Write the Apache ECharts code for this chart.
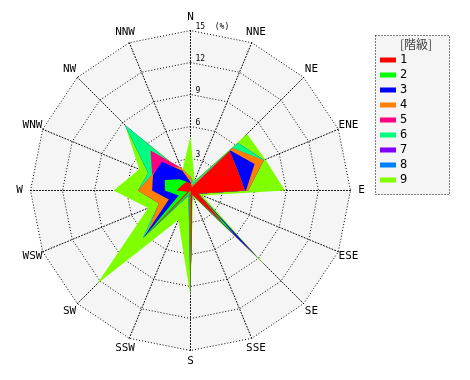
<!DOCTYPE html>
<html><head><meta charset="utf-8">
<script src="https://cdn.jsdelivr.net/npm/echarts@6/dist/echarts.min.js"></script>
<style>html,body{margin:0;padding:0;background:#fff}#c{width:470px;height:380px}</style>
</head><body><div id="c"></div>
<script>
// compass directions, clockwise from North
const directions = ['N','NNE','NE','ENE','E','ESE','SE','SSE','S','SSW','SW','WSW','W','WNW','NW','NNW'];
const classNames = ['1','2','3','4','5','6','7','8','9'];
const classColors = ['#ff0000','#00ff00','#0000ff','#ff8000','#ff0080','#00ff80','#8000ff','#0080ff','#80ff00'];
const radiusTicks = [0, 3, 6, 9, 12, 15];
const radiusUnit = '(%)';
const legendTitle = '[階級]';

// values (%) per class, in the order of `directions`
const s1 = [0.6, 0.3, 5.2, 4.8, 5.1, 0.8, 4.3, 0.4, 9.9, 0.0, 5.8, 0.3, 1.3, 1.0, 0.9, 0.9];
const s2 = [0.6, 0.3, 5.2, 4.8, 5.1, 0.8, 6.0, 0.4, 9.9, 0.3, 6.0, 1.2, 2.4, 2.6, 1.5, 0.9];
const s3 = [0.8, 0.3, 5.3, 6.5, 5.2, 0.8, 8.8, 0.4, 9.9, 0.3, 6.2, 2.2, 3.6, 3.8, 3.8, 2.0];
const s4 = [1.3, 0.5, 5.6, 7.4, 5.4, 0.8, 8.9, 0.4, 9.9, 0.3, 5.8, 3.2, 4.9, 3.9, 3.3, 2.3];
const s5 = [1.3, 0.5, 5.6, 7.4, 5.4, 0.8, 8.9, 0.4, 9.9, 0.3, 5.8, 3.2, 4.9, 3.9, 5.3, 2.3];
const s6 = [1.3, 0.8, 6.3, 7.45, 5.4, 0.8, 9.0, 0.4, 9.9, 0.5, 6.3, 3.2, 4.9, 4.3, 8.7, 1.8];
const s7 = [1.3, 0.8, 6.3, 7.45, 5.4, 0.8, 9.0, 0.4, 9.9, 0.5, 6.3, 3.2, 4.9, 4.3, 8.7, 1.8];
const s8 = [1.3, 0.8, 6.3, 7.45, 5.4, 0.8, 9.1, 0.4, 9.9, 0.5, 6.3, 3.2, 4.9, 4.3, 8.7, 1.8];
const s9 = [5.1, 1.0, 7.5, 7.6, 8.85, 1.2, 9.9, 0.6, 9.9, 3.0, 12.4, 4.3, 7.2, 5.2, 8.7, 2.0];
const classValues = [s1, s2, s3, s4, s5, s6, s7, s8, s9];

// ECharts radar lays indicators counter-clockwise: reorder to get clockwise compass
const order = [0].concat(directions.map((d, i) => i).slice(1).reverse());
const maxR = radiusTicks[radiusTicks.length - 1];
const mono = 'DejaVu Sans Mono';

const indicator = order.map((i, k) => {
  const ind = { name: directions[i], min: 0, max: maxR };
  if (k === 0) {
    ind.axisLabel = {
      show: true, fontSize: 8, fontFamily: mono, color: '#000',
      align: 'left', verticalAlign: 'bottom', margin: -5,
      formatter: v => (v === maxR ? v + '  ' + radiusUnit : String(v))
    };
  }
  return ind;
});

const series = [];
for (let c = classNames.length - 1; c >= 0; c--) {
  series.push({
    type: 'radar', name: classNames[c], symbol: 'none', silent: true,
    itemStyle: { color: classColors[c] },
    lineStyle: { width: 0, color: classColors[c] },
    areaStyle: { color: classColors[c], opacity: 1 },
    data: [{ value: order.map(i => classValues[c][i]), name: classNames[c] }]
  });
}

const chart = echarts.init(document.getElementById('c'), null, { renderer: 'canvas' });
chart.setOption({
  animation: false,
  backgroundColor: '#fff',
  title: {
    text: legendTitle, left: 400, top: 38, padding: 0,
    textStyle: { fontSize: 12, fontWeight: 'normal', color: '#444', fontFamily: 'Noto Sans CJK JP' }
  },
  legend: {
    orient: 'vertical', left: 380, top: 54, padding: 0,
    itemWidth: 16, itemHeight: 5, itemGap: 3, icon: 'rect', selectedMode: false,
    data: classNames,
    textStyle: { fontSize: 12, fontFamily: mono, color: '#000', padding: [0,0,0,-1] }
  },
  graphic: [{
    type: 'rect', z: 0, silent: true,
    shape: { x: 375.5, y: 35.5, width: 74, height: 159 },
    style: { fill: '#f5f5f5', stroke: '#000', lineWidth: 1, lineDash: [1, 2] }
  }],
  radar: {
    center: [190.5, 190.5], radius: 160, startAngle: 90,
    shape: 'polygon', splitNumber: 5,
    indicator: indicator,
    axisName: { color: '#000', fontSize: 11, fontFamily: mono, align: 'center', verticalAlign: 'middle' },
    nameGap: 11,
    axisLine: { lineStyle: { color: '#000', width: 1, type: [1, 2] } },
    splitLine: { lineStyle: { color: '#000', width: 1, type: [1, 2] } },
    splitArea: { show: true, areaStyle: { color: ['#f5f5f5'] } },
    axisTick: { show: false },
    axisLabel: { show: false }
  },
  series: series
});
</script></body></html>
